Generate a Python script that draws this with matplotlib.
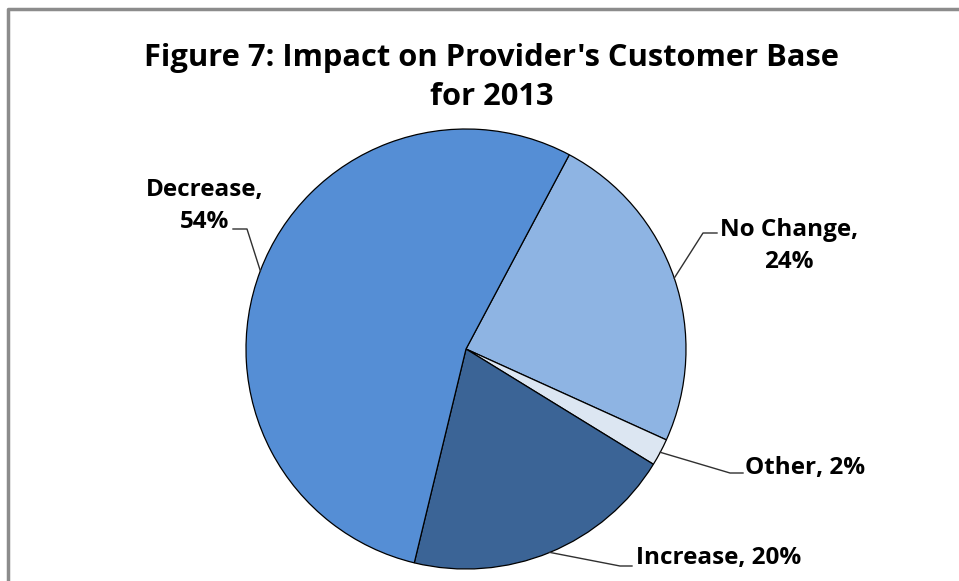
import numpy as np
import matplotlib.pyplot as plt

# data
categories = ["No Change", "Other", "Increase", "Decrease"]
shares = [24, 2, 20, 54]
colors = ["#8EB4E3", "#DCE6F2", "#3B6496", "#558ED5"]

W, H = 959, 581
fig = plt.figure(figsize=(W / 100, H / 100), dpi=100)
ax = fig.add_axes([0, 0, 1, 1])

cx, cy, r = 466, H - 349, 220
wedges, _ = ax.pie(shares, colors=colors, startangle=62, counterclock=False,
                   center=(cx, cy), radius=r, frame=True,
                   wedgeprops=dict(edgecolor="black", linewidth=0.9))
ax.set_xlim(0, W)
ax.set_ylim(0, H)
ax.axis("off")

# chart area border (left + top visible)
ax.plot([8, 8, W], [0, H - 9, H - 9], color="#8c8c8c", lw=2.5, clip_on=False)

font = "Open Sans"
ax.text(492, H - 58, "Figure 7: Impact on Provider's Customer Base", ha="center", va="center",
        fontsize=22.2, fontweight="bold", family=font)
ax.text(492, H - 97, "for 2013", ha="center", va="center",
        fontsize=22.2, fontweight="bold", family=font)

def edge_point(w):
    a = np.deg2rad((w.theta1 + w.theta2) / 2)
    return cx + r * np.cos(a), cy + r * np.sin(a)

# label layout: text pos (x, y_down), leader start, leader knee, align
layout = {
    "Decrease": ((205, 206), (233, 229), (247, 229), "center"),
    "No Change": ((789, 246), (717, 233), (703, 233), "center"),
    "Other": ((745, 468), (743, 473), (730, 473), "left"),
    "Increase": ((636, 558), (632, 566), (620, 566), "left"),
}
for cat, val, w in zip(categories, shares, wedges):
    (tx, ty), (k1x, k1y), (k2x, k2y), ha = layout[cat]
    ex, ey = edge_point(w)
    ax.plot([k1x, k2x, ex], [H - k1y, H - k2y, ey], color="#303030", lw=1.0)
    if cat in ("Decrease", "No Change"):
        txt = f"{cat},\n{val}%"
    else:
        txt = f"{cat}, {val}%"
    ax.text(tx, H - ty, txt, ha=ha, va="center", fontsize=17.5, fontweight="bold",
            family=font, linespacing=1.45)

fig.savefig("out.png", dpi=100)
